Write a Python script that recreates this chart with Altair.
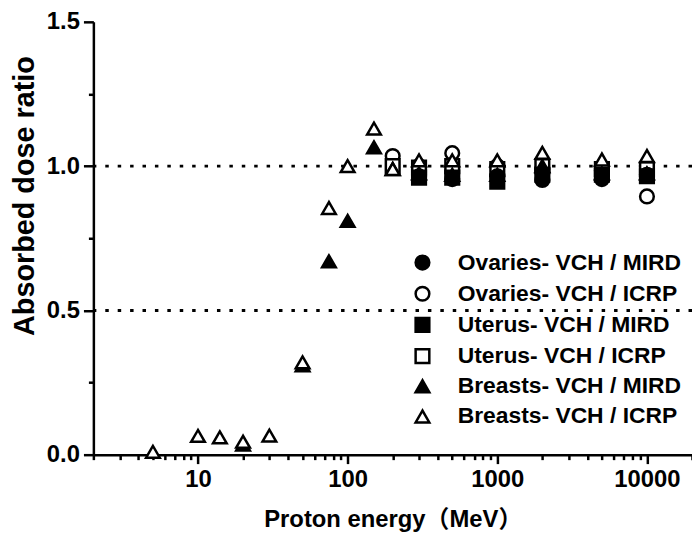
import altair as alt
import pandas as pd

# ---------------- data ----------------
series_names = [
    "Ovaries- VCH / MIRD",
    "Ovaries- VCH / ICRP",
    "Uterus- VCH / MIRD",
    "Uterus- VCH / ICRP",
    "Breasts- VCH / MIRD",
    "Breasts- VCH / ICRP",
]
series_shapes = ["circle", "circle", "square", "square", "triangle-up", "triangle-up"]
series_fills = ["black", "white", "black", "white", "black", "white"]
series_strokes = ["black"] * 6
series_sizes = [190, 190, 170, 170, 290, 290]

ovaries_mird_e = [300, 500, 1000, 2000, 5000, 10000]
ovaries_mird_v = [0.965, 0.955, 0.965, 0.952, 0.955, 0.97]

ovaries_icrp_e = [200, 300, 500, 1000, 2000, 5000, 10000]
ovaries_icrp_v = [1.035, 1.0, 1.045, 1.0, 0.99, 0.985, 0.895]

uterus_mird_e = [300, 500, 1000, 2000, 5000, 10000]
uterus_mird_v = [0.96, 0.96, 0.946, 0.97, 0.97, 0.965]

uterus_icrp_e = [200, 300, 500, 1000, 2000, 5000, 10000]
uterus_icrp_v = [1.0, 0.995, 1.0, 0.99, 1.0, 0.99, 0.99]

breasts_mird_e = [20, 50, 75, 100, 150, 200, 300, 500, 1000, 2000, 5000, 10000]
breasts_mird_v = [0.035, 0.31, 0.67, 0.81, 1.065, 0.99, 0.975, 0.97, 0.97, 1.0, 0.975, 0.975]

breasts_icrp_e = [5, 10, 14, 20, 30, 50, 75, 100, 150, 200, 300, 500, 1000, 2000, 5000, 10000]
breasts_icrp_v = [0.01, 0.065, 0.06, 0.045, 0.066, 0.32, 0.855, 1.0, 1.13, 0.99, 1.02, 1.02, 1.02, 1.046, 1.023, 1.035]

reference_levels = [0.5, 1.0]

x_ticks = [2, 3, 4, 5, 6, 7, 8, 9,
           10, 20, 30, 40, 50, 60, 70, 80, 90,
           100, 200, 300, 400, 500, 600, 700, 800, 900,
           1000, 2000, 3000, 4000, 5000, 6000, 7000, 8000, 9000,
           10000, 20000]
y_ticks = [0, 0.25, 0.5, 0.75, 1.0, 1.25, 1.5]

# drawing order (bottom to top)
series_data = {
    "Ovaries- VCH / ICRP": (ovaries_icrp_e, ovaries_icrp_v),
    "Uterus- VCH / ICRP": (uterus_icrp_e, uterus_icrp_v),
    "Breasts- VCH / MIRD": (breasts_mird_e, breasts_mird_v),
    "Breasts- VCH / ICRP": (breasts_icrp_e, breasts_icrp_v),
    "Ovaries- VCH / MIRD": (ovaries_mird_e, ovaries_mird_v),
    "Uterus- VCH / MIRD": (uterus_mird_e, uterus_mird_v),
}

rows = []
for name, (es, vs) in series_data.items():
    for e, v in zip(es, vs):
        rows.append({"energy": e, "ratio": v, "series": name})
df = pd.DataFrame(rows)
ref_df = pd.DataFrame({"level": reference_levels})

FONT = "Liberation Sans, Arial, Noto Sans CJK SC"

x_scale = alt.Scale(type="log", domain=[2, 20000], nice=False)
y_scale = alt.Scale(domain=[0, 1.5], nice=False, zero=False)

x_axis = alt.Axis(
    values=x_ticks,
    labelExpr="indexof([10,100,1000,10000], datum.value) >= 0 ? format(datum.value, 'd') : ''",
    tickSize={"condition": {"test": "indexof([10,100,1000,10000], datum.value) >= 0", "value": 9}, "value": 5},
    labelOverlap=False,
    labelFlush=False,
    labelPadding=4,
    title="Proton energy（MeV）",
    titleFontSize=24,
    titlePadding=16,
)
y_axis = alt.Axis(
    values=y_ticks,
    labelExpr="datum.value % 0.5 == 0 ? format(datum.value, '.1f') : ''",
    tickSize={"condition": {"test": "datum.value % 0.5 == 0", "value": 10}, "value": 5},
    labelOverlap=False,
    labelFlush=False,
    labelPadding=4,
    title="Absorbed dose ratio",
    titleFontSize=29,
    titlePadding=7,
    titleY=175,
)

legend = alt.Legend(
    orient="none",
    legendX=320,
    legendY=231,
    title=None,
    labelFont=FONT,
    labelFontSize=23,
    labelFontWeight="bold",
    labelColor="black",
    labelLimit=500,
    labelOffset=24,
    rowPadding=6.4,
    padding=0,
    symbolStrokeColor="black",
    symbolStrokeWidth=2.5,
)

rules = alt.Chart(ref_df).mark_rule(
    color="black", strokeWidth=3, strokeDash=[3.5, 9]
).encode(
    y=alt.Y("level:Q", scale=y_scale, axis=y_axis),
)

points = alt.Chart(df).mark_point(
    strokeWidth=2.5, opacity=1, fillOpacity=1, strokeOpacity=1
).encode(
    x=alt.X("energy:Q", scale=x_scale, axis=x_axis),
    y=alt.Y("ratio:Q", scale=y_scale, axis=y_axis),
    shape=alt.Shape("series:N", scale=alt.Scale(domain=series_names, range=series_shapes), legend=legend),
    fill=alt.Fill("series:N", scale=alt.Scale(domain=series_names, range=series_fills), legend=legend),
    stroke=alt.Stroke("series:N", scale=alt.Scale(domain=series_names, range=series_strokes), legend=legend),
    size=alt.Size("series:N", scale=alt.Scale(domain=series_names, range=series_sizes), legend=legend),
)

chart = alt.layer(rules, points).properties(
    width=603,
    height=436,
    autosize=alt.AutoSizeParams(type="none"),
    padding={"left": 86, "top": 12, "right": 0, "bottom": 84},
    background="white",
).configure_view(
    strokeWidth=0
).configure_axis(
    domainColor="black",
    domainWidth=2.5,
    tickColor="black",
    tickWidth=2.5,
    grid=False,
    labelFont=FONT,
    labelFontSize=24,
    labelFontWeight="bold",
    labelColor="black",
    titleFont=FONT,
    titleFontWeight="bold",
    titleColor="black",
)

chart.save("out.html", embed_options={"renderer": "svg", "actions": False})
